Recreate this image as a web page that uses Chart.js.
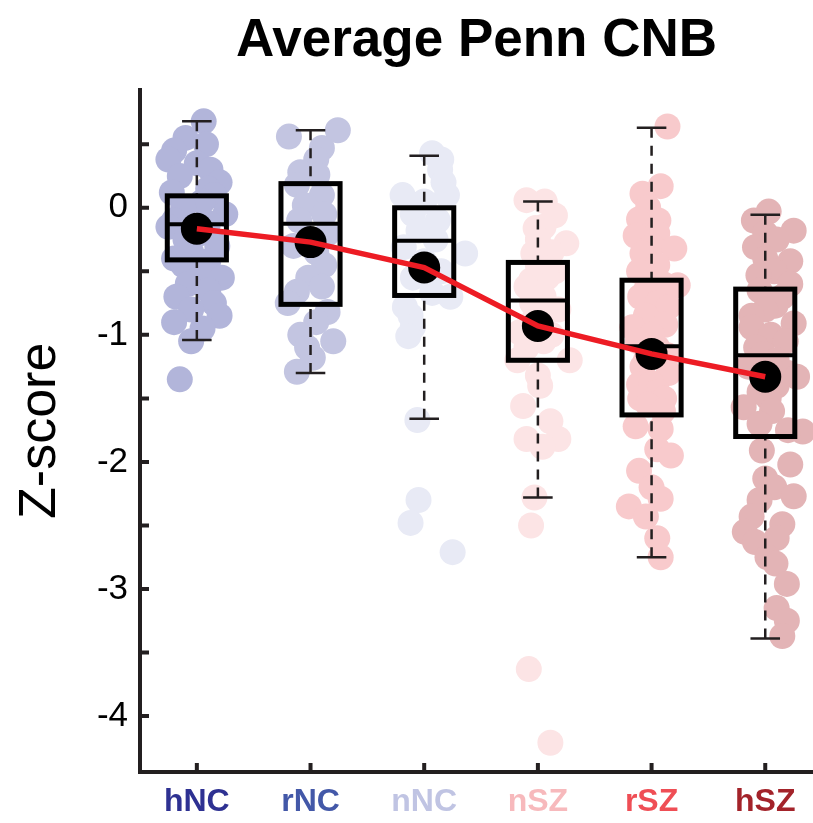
<!DOCTYPE html>
<html>
<head>
<meta charset="utf-8">
<script src="https://cdn.jsdelivr.net/npm/chart.js@4.4.1/dist/chart.umd.min.js"></script>
<style>body{margin:0;background:#fff}</style>
</head>
<body>
<canvas id="cnbChart" width="813" height="823"></canvas>
<script>
// Groups and summary stats
const groups = ["hNC", "rNC", "nNC", "nSZ", "rSZ", "hSZ"];
const means = [-0.165, -0.27, -0.47, -0.93, -1.15, -1.33];
const medians = [-0.13, -0.125, -0.26, -0.73, -1.09, -1.16];
const q3 = [0.094, 0.19, 0.0, -0.43, -0.57, -0.64];
const q1 = [-0.41, -0.76, -0.69, -1.2, -1.63, -1.8];
const whiskHi = [0.68, 0.61, 0.41, 0.05, 0.63, -0.055];
const whiskLo = [-1.04, -1.30, -1.66, -2.28, -2.75, -3.39];
const yTicks = [-4, -3.5, -3, -2.5, -2, -1.5, -1, -0.5, 0, 0.5];

// Individual subjects (z-score, horizontal jitter)
const hncY  = [0.68, 0.55, 0.50, 0.45, 0.38, 0.35, 0.30, 0.25, 0.20, 0.15, 0.12, 0.10, 0.05, 0.00, -0.05, -0.10, -0.12, -0.15, -0.20, -0.25, -0.30, -0.35, -0.40, -0.42, -0.45, -0.50, -0.55, -0.60, -0.65, -0.70, -0.75, -0.80, -0.85, -0.90, -0.95, -1.05, -1.35];
const hncDx = [0.06, -0.10, 0.08, -0.20, -0.25, 0.00, 0.12, -0.15, 0.20, 0.10, -0.22, 0.15, 0.05, -0.12, 0.25, -0.20, 0.10, -0.25, 0.03, -0.10, 0.18, -0.05, -0.20, 0.10, -0.12, 0.05, 0.22, -0.08, 0.10, -0.18, 0.15, -0.05, 0.20, -0.20, 0.05, -0.05, -0.15];
const rncY  = [0.61, 0.56, 0.47, 0.38, 0.28, 0.26, 0.18, 0.10, 0.02, -0.05, -0.10, -0.20, -0.30, -0.35, -0.45, -0.55, -0.62, -0.66, -0.75, -0.82, -0.90, -1.00, -1.05, -1.10, -1.18, -1.29];
const rncDx = [0.24, -0.19, 0.10, 0.05, -0.09, 0.06, -0.12, 0.10, -0.05, 0.12, -0.10, 0.15, -0.15, 0.05, 0.12, -0.02, 0.10, -0.12, -0.20, 0.15, 0.05, -0.09, 0.20, -0.03, 0.02, -0.12];
const nncY  = [0.43, 0.38, 0.30, 0.20, 0.10, 0.10, 0.05, -0.05, -0.10, -0.18, -0.25, -0.31, -0.36, -0.42, -0.50, -0.55, -0.67, -0.70, -0.78, -0.85, -0.94, -1.01, -1.67, -2.30, -2.48, -2.71];
const nncDx = [0.07, 0.15, 0.14, 0.17, -0.19, 0.20, 0.00, -0.10, 0.12, -0.05, 0.10, -0.18, 0.36, 0.00, 0.15, -0.10, 0.07, 0.23, -0.17, -0.12, -0.10, -0.14, -0.06, -0.05, -0.12, 0.25];
const nszY  = [0.06, 0.05, -0.06, -0.15, -0.16, -0.25, -0.28, -0.35, -0.36, -0.45, -0.50, -0.55, -0.57, -0.62, -0.70, -0.75, -0.80, -0.85, -0.90, -0.98, -1.00, -1.05, -1.10, -1.20, -1.20, -1.32, -1.40, -1.56, -1.68, -1.82, -1.82, -1.88, -2.28, -2.50, -3.63, -4.21];
const nszDx = [-0.10, 0.06, 0.15, 0.05, -0.02, 0.00, 0.25, 0.12, -0.04, 0.00, 0.15, 0.08, -0.06, -0.10, 0.05, -0.05, 0.18, 0.02, -0.05, -0.16, 0.12, 0.05, -0.10, -0.18, 0.28, 0.00, 0.02, -0.13, 0.11, -0.10, 0.18, 0.04, -0.03, -0.06, -0.08, 0.11];
const rszY  = [0.64, 0.17, 0.11, 0.00, -0.09, -0.10, -0.20, -0.22, -0.30, -0.32, -0.36, -0.45, -0.50, -0.61, -0.60, -0.65, -0.70, -0.75, -0.78, -0.85, -0.92, -0.94, -1.00, -1.05, -1.10, -1.16, -1.20, -1.25, -1.30, -1.39, -1.38, -1.45, -1.50, -1.50, -1.55, -1.60, -1.72, -1.74, -1.90, -1.95, -2.07, -2.20, -2.29, -2.35, -2.43, -2.60, -2.75];
const rszDx = [0.14, 0.08, -0.08, -0.03, -0.11, 0.06, 0.05, -0.14, 0.00, 0.20, -0.08, 0.05, -0.11, 0.23, 0.10, -0.05, -0.10, 0.05, 0.15, -0.05, 0.12, -0.17, 0.00, -0.12, 0.05, 0.14, -0.05, -0.08, 0.15, -0.11, 0.00, 0.05, 0.11, -0.10, -0.03, 0.10, -0.14, 0.08, 0.05, 0.17, -0.11, 0.00, 0.08, -0.20, -0.05, 0.05, 0.08];
const hszY  = [-0.03, -0.10, -0.18, -0.20, -0.25, -0.31, -0.40, -0.42, -0.50, -0.53, -0.60, -0.65, -0.70, -0.77, -0.80, -0.85, -0.91, -0.94, -1.00, -1.05, -1.10, -1.15, -1.20, -1.25, -1.30, -1.33, -1.40, -1.45, -1.50, -1.57, -1.60, -1.70, -1.76, -1.75, -1.91, -2.02, -2.13, -2.20, -2.27, -2.30, -2.43, -2.49, -2.55, -2.60, -2.63, -2.75, -2.80, -2.96, -3.15, -3.25, -3.37];
const hszDx = [0.03, -0.10, 0.25, 0.00, 0.10, -0.09, 0.00, 0.22, 0.08, -0.06, 0.22, -0.05, 0.15, 0.09, 0.00, -0.12, 0.25, -0.12, 0.05, 0.18, -0.08, -0.02, 0.10, -0.15, 0.20, 0.28, 0.10, -0.05, 0.03, -0.19, 0.06, -0.05, 0.33, 0.20, -0.03, 0.22, 0.00, 0.08, 0.25, -0.05, -0.12, 0.15, -0.18, 0.10, -0.09, 0.02, 0.09, 0.19, 0.10, 0.19, 0.15];

const dotColors = ["#b2b5da", "#c3c5e1", "#e8eaf5", "#fce4e5", "#f8cacc", "#e3b4b6"];
const labelColors = ["#2e3192", "#4358a8", "#c0c4e3", "#f7b9bc", "#ef4e55", "#a3232a"];
const allY = [hncY, rncY, nncY, nszY, rszY, hszY];
const allDx = [hncDx, rncDx, nncDx, nszDx, rszDx, hszDx];

const FONT = 'Arial, "Liberation Sans", Helvetica, sans-serif';
const AXIS = "#231f20";

// boxes, whiskers, medians drawn over the subject dots, under the means
const boxPlugin = {
  id: "boxes",
  afterDatasetDraw(chart, args) {
    if (args.index !== 2) return;
    const xs = chart.scales.x, ys = chart.scales.y, ctx = chart.ctx;
    ctx.save();
    groups.forEach((g, i) => {
      const cx = xs.getPixelForValue(i + 1);
      const half = xs.getPixelForValue(i + 1.26) - cx;
      const cap = xs.getPixelForValue(i + 1.13) - cx;
      const top = ys.getPixelForValue(q3[i]);
      const bot = ys.getPixelForValue(q1[i]);
      const hi = ys.getPixelForValue(whiskHi[i]);
      const lo = ys.getPixelForValue(whiskLo[i]);
      ctx.strokeStyle = AXIS;
      ctx.lineWidth = 2.5;
      ctx.setLineDash([10, 8]);
      ctx.beginPath();
      ctx.moveTo(cx, hi); ctx.lineTo(cx, top);
      ctx.moveTo(cx, lo); ctx.lineTo(cx, bot);
      ctx.stroke();
      ctx.setLineDash([]);
      ctx.beginPath();
      ctx.moveTo(cx - cap, hi); ctx.lineTo(cx + cap, hi);
      ctx.moveTo(cx - cap, lo); ctx.lineTo(cx + cap, lo);
      ctx.stroke();
      ctx.strokeStyle = "#000";
      ctx.lineWidth = 5;
      ctx.strokeRect(cx - half, top, 2 * half, bot - top);
      const med = ys.getPixelForValue(medians[i]);
      ctx.lineWidth = 4;
      ctx.beginPath();
      ctx.moveTo(cx - half, med); ctx.lineTo(cx + half, med);
      ctx.stroke();
    });
    ctx.restore();
  },
  afterDraw(chart) {
    // inward tick marks
    const xs = chart.scales.x, ys = chart.scales.y, ctx = chart.ctx;
    const a = chart.chartArea;
    ctx.save();
    ctx.strokeStyle = AXIS;
    ctx.lineWidth = 4;
    ctx.beginPath();
    yTicks.forEach(v => {
      const p = ys.getPixelForValue(v);
      ctx.moveTo(a.left, p); ctx.lineTo(a.left + 9, p);
    });
    groups.forEach((g, i) => {
      const p = xs.getPixelForValue(i + 1);
      ctx.moveTo(p, a.bottom); ctx.lineTo(p, a.bottom - 9);
    });
    ctx.stroke();
    ctx.restore();
  }
};

const scatterSets = groups.map((g, i) => ({
  type: "scatter",
  label: g,
  order: 2,
  data: allY[i].map((v, k) => ({ x: i + 1 + allDx[i][k], y: v })),
  backgroundColor: dotColors[i],
  borderWidth: 0,
  pointRadius: 13,
  pointHoverRadius: 13
}));

new Chart(document.getElementById("cnbChart").getContext("2d"), {
  type: "scatter",
  data: {
    datasets: [
      {
        type: "line",
        label: "mean trend",
        order: 0,
        data: means.map((m, i) => ({ x: i + 1, y: m })),
        borderColor: "#ed1c24",
        borderWidth: 5.5,
        pointRadius: 0,
        fill: false,
        tension: 0
      },
      {
        type: "scatter",
        label: "means",
        order: 1,
        data: means.map((m, i) => ({ x: i + 1, y: m })),
        backgroundColor: "#000",
        borderWidth: 0,
        pointRadius: 16
      },
      ...scatterSets
    ]
  },
  options: {
    responsive: false,
    animation: false,
    layout: { padding: 0, autoPadding: false },
    plugins: {
      legend: { display: false },
      tooltip: { enabled: false },
      title: {
        display: true,
        text: "Average Penn CNB",
        fullSize: false,
        color: "#000",
        font: { family: FONT, size: 53, weight: "bold" },
        padding: { top: 10, bottom: 16 }
      }
    },
    scales: {
      x: {
        type: "linear",
        min: 0.5,
        max: 6.42,
        afterBuildTicks: s => { s.ticks = groups.map((g, i) => ({ value: i + 1 })); },
        afterFit: s => { s.height = 51; s.paddingLeft = 0; s.paddingRight = 0; },
        grid: { drawOnChartArea: false, drawTicks: false },
        border: { color: AXIS, width: 4 },
        ticks: {
          autoSkip: false,
          maxRotation: 0,
          padding: 11,
          callback: (v, idx) => groups[idx],
          color: c => labelColors[c.index],
          font: { family: '"Liberation Sans Narrow", "Arial Narrow", ' + FONT, size: 32, weight: "bold" }
        }
      },
      y: {
        min: -4.44,
        max: 0.93,
        afterBuildTicks: s => { s.ticks = yTicks.map(v => ({ value: v })); },
        afterFit: s => { s.width = 140; },
        grid: { drawOnChartArea: false, drawTicks: false },
        border: { color: AXIS, width: 4 },
        ticks: {
          padding: 12,
          color: "#000",
          callback: v => (Number.isInteger(v) ? String(v) : ""),
          font: { family: FONT, size: 35 }
        },
        title: {
          display: true,
          text: "Z-score",
          color: "#000",
          font: { family: FONT, size: 52 },
          padding: { top: 9, bottom: 0 }
        }
      }
    }
  },
  plugins: [boxPlugin]
});
</script>
</body>
</html>
